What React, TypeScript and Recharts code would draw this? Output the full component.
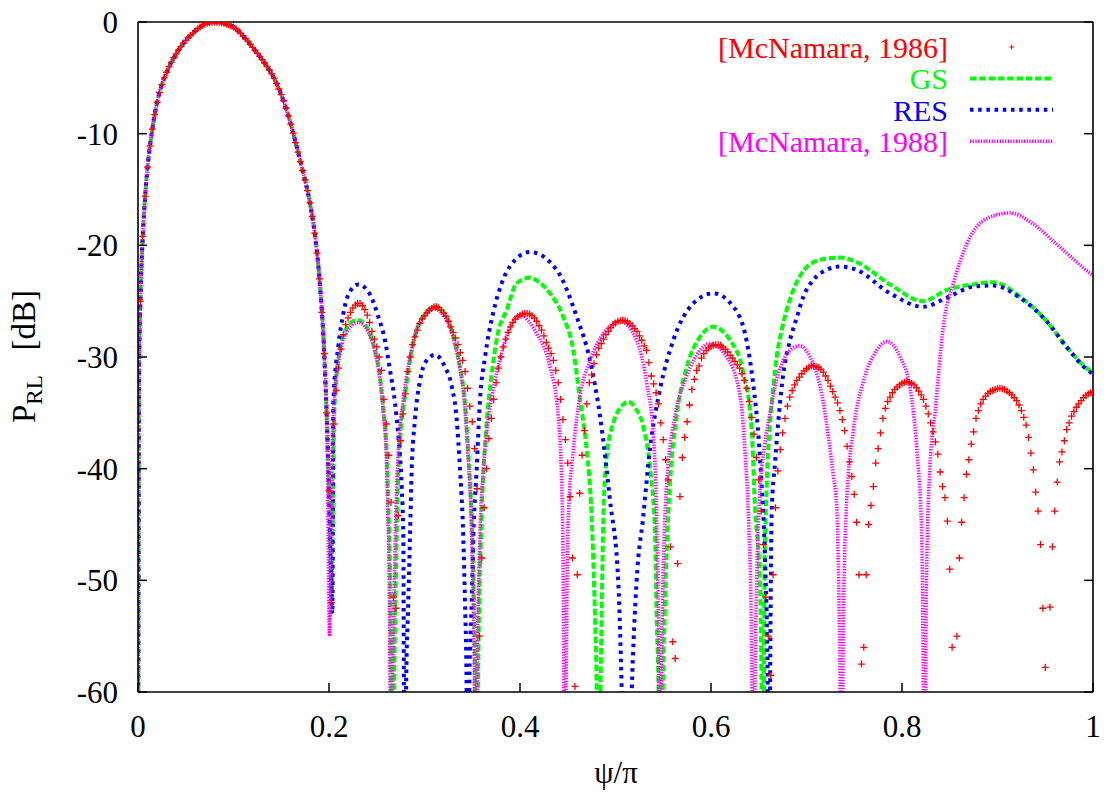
import React from 'react';
import { ComposedChart, Line, Scatter, XAxis, YAxis, Legend } from 'recharts';

const FONT = "'Liberation Serif', 'Times New Roman', serif";

// ---------- tick labels ----------
const xTicks = [0, 0.2, 0.4, 0.6, 0.8, 1];
const yTicks = [-60, -50, -40, -30, -20, -10, 0];

// ---------- legend ----------
const seriesNames = ['[McNamara, 1986]', 'GS', 'RES', '[McNamara, 1988]'];
const seriesColors = ['#ff0000', '#00ff00', '#0000ff', '#ff00ff'];

// ---------- main lobe (shared by the three curves) ----------
const mainLobeX = [0, 0.001, 0.0025, 0.005, 0.0075, 0.01, 0.015, 0.02, 0.025, 0.03, 0.04, 0.05, 0.06, 0.07, 0.08, 0.09, 0.1, 0.11, 0.12, 0.13, 0.14, 0.15, 0.16, 0.17, 0.18, 0.185, 0.19, 0.195];
const mainLobeY = [-80, -32, -25, -19.2, -15.6, -13.0, -9.6, -7.2, -5.6, -4.5, -2.85, -1.65, -0.8, -0.2, 0, -0.12, -0.45, -1.25, -2.27, -3.37, -4.65, -6.5, -9.15, -12.5, -16.2, -18.9, -23.0, -29.7];

// ---------- GS ----------
const gsX = [0.2, 0.2028, 0.2055, 0.2115, 0.2185, 0.225, 0.2307, 0.237, 0.2412, 0.2482, 0.2534, 0.2569, 0.2604, 0.2621, 0.2639, 0.2652, 0.2667, 0.2685, 0.2702, 0.2716, 0.2743, 0.2796, 0.2848, 0.2918, 0.3005, 0.311, 0.3232, 0.3304, 0.3372, 0.3424, 0.3459, 0.3494, 0.3518, 0.353, 0.3545, 0.3562, 0.36, 0.365, 0.37, 0.3765, 0.386, 0.3965, 0.41, 0.42, 0.4314, 0.4453, 0.4558, 0.4628, 0.4698, 0.475, 0.4785, 0.4803, 0.4822, 0.4842, 0.4855, 0.4873, 0.4908, 0.4977, 0.5055, 0.5134, 0.521, 0.529, 0.536, 0.5414, 0.543, 0.545, 0.547, 0.5495, 0.5515, 0.5536, 0.557, 0.564, 0.5746, 0.5885, 0.602, 0.62, 0.6338, 0.6426, 0.646, 0.6513, 0.653, 0.6545, 0.656, 0.6583, 0.6618, 0.6653, 0.6688, 0.674, 0.6792, 0.6862, 0.695, 0.7054, 0.72, 0.735, 0.7525, 0.7874, 0.8223, 0.8467, 0.8747, 0.8956, 0.9236, 0.9515, 0.9724, 0.9934, 1.0];
const gsY = [-42, -51.5, -35, -29.2, -27.4, -26.8, -26.7, -27.0, -27.6, -29.4, -31.8, -34.7, -38.6, -43.1, -49.1, -59.5, -80, -58, -49.1, -43.1, -37.7, -33.5, -30.3, -27.6, -26.1, -25.5, -26.4, -28.2, -30.9, -34.1, -38.6, -44.6, -52.0, -59.5, -80, -58, -44, -36, -31.8, -28, -25.8, -23.4, -22.9, -23.3, -24.3, -26.4, -29.4, -33.8, -38.3, -44.3, -53.2, -59.8, -80, -60, -53.2, -44.3, -38.9, -35.9, -34.5, -34.0, -34.6, -36.2, -39.8, -45.8, -53.2, -60, -80, -60, -53, -47.3, -41.3, -35.3, -30.9, -28.2, -27.3, -28.5, -31.4, -36.5, -43.4, -50.3, -60, -80, -50, -41.5, -36, -32.6, -30.0, -27.6, -25.8, -24.0, -22.5, -21.6, -21.2, -21.1, -21.5, -23.5, -25.0, -24.0, -23.5, -23.3, -24.6, -26.8, -29.1, -31.0, -31.4];

// ---------- RES ----------
const resX = [0.2, 0.2025, 0.2035, 0.2045, 0.2098, 0.215, 0.2203, 0.2307, 0.2429, 0.2516, 0.2586, 0.2639, 0.2691, 0.2726, 0.2761, 0.2778, 0.2784, 0.2795, 0.2808, 0.283, 0.2848, 0.2866, 0.29, 0.2953, 0.3023, 0.311, 0.3215, 0.3285, 0.3337, 0.3372, 0.3406, 0.3424, 0.344, 0.3455, 0.347, 0.3494, 0.3511, 0.3546, 0.358, 0.3634, 0.372, 0.3808, 0.395, 0.4105, 0.4384, 0.4594, 0.4733, 0.4838, 0.4942, 0.503, 0.5065, 0.5115, 0.517, 0.522, 0.529, 0.536, 0.5466, 0.5605, 0.5815, 0.6024, 0.6234, 0.6374, 0.6443, 0.6496, 0.653, 0.6565, 0.6595, 0.6607, 0.662, 0.6635, 0.667, 0.6757, 0.6827, 0.6897, 0.6967, 0.7071, 0.7211, 0.735, 0.7525, 0.7874, 0.8223, 0.8467, 0.8747, 0.8956, 0.9236, 0.9515, 0.9724, 0.9934, 1.0];
const resY = [-42, -51, -53, -34.1, -29.0, -26.1, -24.4, -23.5, -24.4, -26.4, -28.5, -31.2, -34.1, -37.1, -41.6, -46.1, -59, -80, -59, -52.0, -46.1, -40.1, -35.6, -32.1, -30.3, -29.8, -30.9, -32.6, -35.6, -40.1, -46.1, -52, -59, -80, -59, -52.0, -46.1, -40.1, -34, -30, -26, -23.4, -21.3, -20.6, -22.2, -26.4, -30.3, -35.3, -42.8, -50.3, -59.8, -80, -60, -50.2, -44.3, -38.3, -32.9, -28.5, -25.2, -24.3, -25.5, -28.6, -32.5, -37, -41.5, -48, -60, -80, -58, -44, -39.5, -31.5, -28.5, -26.5, -24.6, -23.1, -22.2, -21.9, -22.2, -24.3, -25.5, -24.7, -23.7, -23.6, -24.7, -26.8, -29.1, -31.1, -31.5];

// ---------- [McNamara, 1988] ----------
const mc88X = [0.198, 0.2005, 0.2035, 0.2063, 0.2115, 0.2185, 0.2307, 0.2412, 0.2482, 0.2534, 0.2569, 0.26, 0.2615, 0.263, 0.2638, 0.2652, 0.2665, 0.2685, 0.27, 0.2725, 0.2775, 0.2835, 0.2905, 0.3, 0.31, 0.322, 0.33, 0.337, 0.342, 0.3455, 0.349, 0.351, 0.3523, 0.3535, 0.355, 0.358, 0.3616, 0.3668, 0.3738, 0.3825, 0.3913, 0.4, 0.4174, 0.4314, 0.44, 0.4436, 0.4453, 0.4457, 0.447, 0.4482, 0.4489, 0.4506, 0.4558, 0.4628, 0.4733, 0.4873, 0.5047, 0.522, 0.5326, 0.5396, 0.543, 0.5455, 0.5468, 0.548, 0.5536, 0.5623, 0.5746, 0.5885, 0.598, 0.6164, 0.6304, 0.6356, 0.6395, 0.6418, 0.643, 0.6445, 0.646, 0.6478, 0.6505, 0.656, 0.6618, 0.6688, 0.6757, 0.6827, 0.6925, 0.7037, 0.7107, 0.7176, 0.7228, 0.7281, 0.7316, 0.734, 0.7352, 0.7365, 0.738, 0.7386, 0.742, 0.749, 0.7595, 0.7735, 0.784, 0.7979, 0.8084, 0.8154, 0.8206, 0.8223, 0.8235, 0.8248, 0.8258, 0.8293, 0.8346, 0.8433, 0.8538, 0.8677, 0.8887, 0.9131, 0.9375, 0.962, 0.9969, 1.0];
const mc88Y = [-37, -55, -38, -33, -29.7, -27.8, -26.9, -27.8, -29.6, -32.0, -35.0, -39, -44, -50, -59, -80, -60, -50, -44, -38.5, -34, -30.6, -27.9, -26.3, -25.7, -26.5, -28.3, -31.0, -34.3, -38.8, -44.8, -52, -59.5, -80, -60, -46.1, -40.1, -35.6, -32.1, -29.1, -27.0, -26.3, -27.9, -30.9, -35.3, -41.3, -50.3, -59.8, -80, -60, -53.2, -44.3, -38.3, -33.5, -30.3, -27.9, -26.8, -28.5, -32.3, -37.1, -44.3, -59.8, -80, -58, -41.3, -35.3, -31.7, -29.4, -28.8, -30.0, -33.5, -38.5, -45, -52, -59.8, -80, -60, -50.3, -43, -38.0, -35.0, -32.0, -30.3, -29.4, -29.0, -30.0, -31.5, -34.1, -37.1, -40.7, -43.4, -52, -59.8, -80, -60, -53.9, -42.9, -36.6, -32.2, -29.4, -28.6, -30.0, -32.8, -38.2, -46.0, -59.8, -80, -58, -49.2, -39.7, -35.0, -27.2, -23.4, -19.9, -17.6, -17.1, -18.1, -19.9, -22.5, -22.7];

// ---------- [McNamara, 1986] : sampled every 0.0025 in psi/pi ----------
const mc86Step = 0.0025;
const mc86Y: (number | null)[] = [
  null, -25, -19.2, -15.6, -13.0, -11.1, -9.6, -8.3, -7.2, -6.3, -5.6, -5.0, -4.5, -4.0, -3.6, -3.2, -2.85, -2.5, -2.2, -1.9,
  -1.65, -1.4, -1.2, -1.0, -0.8, -0.6, -0.45, -0.3, -0.2, -0.12, -0.06, -0.02, 0, 0, -0.02, -0.06, -0.12, -0.2, -0.27, -0.35,
  -0.45, -0.6, -0.8, -1.0, -1.25, -1.5, -1.72, -2.0, -2.27, -2.55, -2.8, -3.08, -3.37, -3.67, -3.98, -4.3, -4.65, -5.02, -5.5, -6.0,
  -6.5, -7.05, -7.7, -8.4, -9.15, -9.95, -10.8, -11.65, -12.5, -13.3, -14.15, -15.1, -16.2, -17.4, -18.9, -20.7, -23.0, -26.0, -29.7, -35,
  -42, -52, -36, -33, -31, -29.3, -28.0, -27.1, -26.5, -26.0, -25.6, -25.35, -25.2, -25.2, -25.4, -25.75, -26.25, -26.9, -27.7, -28.4,
  -29.1, -30.0, -31.2, -33.8, -36.0, -38.8, -43.0, -51.5, -52.5, -44.2, -37.5, -35.1, -33.3, -31.3, -30.0, -28.9, -28.2, -27.6, -27.0, -26.6,
  -26.3, -26.05, -25.8, -25.65, -25.5, -25.5, -25.6, -25.8, -26.05, -26.35, -26.8, -27.3, -27.8, -28.3, -28.9, -29.6, -30.3, -31.3, -32.8, -34.4,
  -35.8, -38.2, -41.8, -55, -48, -43.5, -40.0, -37.3, -35.5, -33.8, -32.3, -31.0, -30.0, -29.1, -28.4, -27.8, -27.3, -26.9, -26.6, -26.4,
  -26.25, -26.15, -26.1, -26.1, -26.15, -26.3, -26.5, -26.8, -27.2, -27.6, -28.1, -28.7, -29.2, -29.7, -30.3, -31.2, -32.3, -33.8, -35.6, -37.4,
  -39.5, -42.5, -48, -59.5, -49.5, -42.2, -38.8, -36.6, -34.2, -32.3, -31.6, -30.6, -29.8, -29.2, -28.8, -28.4, -28.0, -27.7, -27.4, -27.1,
  -26.95, -26.8, -26.75, -26.7, -26.75, -26.85, -27.0, -27.2, -27.45, -27.7, -28.1, -28.5, -29.0, -29.4, -30.5, -31.7, -32.4, -33.2, -34.2, -35.9,
  -37.4, -39.2, -41.0, -47.0, -55.5, -57, -48.5, -42.5, -39.0, -37.2, -35.8, -34.3, -32.9, -32.0, -31.2, -30.8, -30.1, -29.7, -29.4, -29.2,
  -29.05, -28.95, -28.9, -28.9, -28.95, -29.1, -29.3, -29.55, -29.85, -30.1, -30.4, -30.7, -31.0, -31.5, -32.1, -32.8, -34.0, -35.4, -36.9, -39.0,
  -41.0, -43.8, -46.8, -51.5, -55.0, -58.5, -49.5, -43.5, -40.2, -38.3, -36.8, -35.5, -34.4, -33.6, -33.0, -32.5, -32.1, -31.8, -31.5, -31.25,
  -31.05, -30.9, -30.8, -30.8, -30.85, -30.95, -31.1, -31.35, -31.7, -32.1, -32.6, -33.1, -33.6, -34.1, -34.8, -35.6, -36.6, -38.0, -39.4, -40.7,
  -42.3, -44.8, -49.5, -57.5, -56, -49.5, -45.0, -43.3, -41.6, -39.5, -38.2, -36.8, -35.5, -34.6, -34.0, -33.6, -33.2, -32.9, -32.7, -32.5,
  -32.35, -32.25, -32.2, -32.25, -32.35, -32.5, -32.75, -33.05, -33.4, -33.8, -34.4, -35.1, -35.9, -36.7, -37.6, -38.7, -40.3, -41.6, -42.6, -44.7,
  -49.0, -56.0, null, -55, -48.0, -44.8, -42.6, -40.5, -39.2, -37.8, -36.7, -35.5, -34.8, -34.2, -33.8, -33.5, -33.25, -33.1, -33.0, -32.9,
  -32.85, -32.8, -32.85, -32.9, -33.05, -33.2, -33.4, -33.65, -33.9, -34.3, -34.8, -35.4, -36.1, -37.2, -38.6, -40.1, -42.1, -43.8, -46.8, -52.5,
  -57.8, null, -52.4, -47.0, -43.8, -41.2, -39.4, -38.5, -37.5, -36.5, -35.9, -35.3, -34.9, -34.5, -34.2, -33.9, -33.65, -33.45, -33.3, -33.2,
  -33.1,
];

// ---------- build tables ----------
const toPoints = (xs: number[], ys: number[]) => xs.map((x, i) => ({ x, y: ys[i] }));
const gsData = toPoints([...mainLobeX, ...gsX], [...mainLobeY, ...gsY]);
const resData = toPoints([...mainLobeX, ...resX], [...mainLobeY, ...resY]);
const mc88Data = toPoints([...mainLobeX, ...mc88X], [...mainLobeY, ...mc88Y]);
const mc86Data = mc86Y
  .map((y, i) => ({ x: Number((i * mc86Step).toFixed(4)), y }))
  .filter((p) => p.y !== null && (p.y as number) >= -60);

// ---------- styling ----------
const TICK_FS = 31;
const LEGEND_FS = 30;
const TICK_LEN = 9;
const FRAME = { stroke: '#000', strokeWidth: 1.6 };
const txtStyle = (size: number): React.CSSProperties => ({ fontFamily: FONT, fontSize: size });

const BottomTick = (props: any) => {
  const { x, y, payload } = props;
  return (
    <g>
      <line x1={x} y1={y} x2={x} y2={y - TICK_LEN} stroke="#000" strokeWidth={1.5} />
      <text x={x} y={y + 45} textAnchor="middle" style={txtStyle(TICK_FS)} fill="#000">
        {String(payload.value)}
      </text>
    </g>
  );
};
const TopTick = (props: any) => {
  const { x, y } = props;
  return <line x1={x} y1={y} x2={x} y2={y + TICK_LEN} stroke="#000" strokeWidth={1.5} />;
};
const LeftTick = (props: any) => {
  const { x, y, payload } = props;
  return (
    <g>
      <line x1={x} y1={y} x2={x + TICK_LEN} y2={y} stroke="#000" strokeWidth={1.5} />
      <text x={x - 20} y={y + 11} textAnchor="end" style={txtStyle(TICK_FS)} fill="#000">
        {String(payload.value)}
      </text>
    </g>
  );
};
const RightTick = (props: any) => {
  const { x, y } = props;
  return <line x1={x} y1={y} x2={x - TICK_LEN} y2={y} stroke="#000" strokeWidth={1.5} />;
};

const PlusShape = (props: any) => {
  const { cx, cy } = props;
  if (cx == null || cy == null) return null;
  const a = 3.5;
  return (
    <path
      d={`M${cx - a},${cy}H${cx + a}M${cx},${cy - a}V${cy + a}`}
      stroke="#ff0000"
      strokeWidth={1.3}
      fill="none"
    />
  );
};

const lineStyles = [
  null,
  { dash: '6.5 2.8', width: 4 },
  { dash: '3.5 4.7', width: 4 },
  { dash: '1.3 1.4', width: 3.6 },
];

const renderLegend = () => {
  const textRight = 948;
  const firstBase = 58;
  const gap = 31.4;
  const sx1 = 970;
  const sx2 = 1053;
  return (
    <svg width={1107} height={180} style={{ position: 'absolute', left: 0, top: 0, overflow: 'visible', pointerEvents: 'none' }}>
      {seriesNames.map((name, i) => {
        const base = firstBase + i * gap;
        const cy = base - 11;
        const st = lineStyles[i];
        return (
          <g key={name}>
            <text x={textRight} y={base} textAnchor="end" style={txtStyle(LEGEND_FS)} fill={seriesColors[i]}>
              {name}
            </text>
            {st ? (
              <line x1={sx1} y1={cy} x2={sx2} y2={cy} stroke={seriesColors[i]} strokeWidth={st.width} strokeDasharray={st.dash} />
            ) : (
              <path d={`M${1011.7 - 2.4},${cy}H${1011.7 + 2.4}M1011.7,${cy - 2.4}V${cy + 2.4}`} stroke={seriesColors[i]} strokeWidth={1} fill="none" />
            )}
          </g>
        );
      })}
    </svg>
  );
};

const XTitle = () => (
  <text x={616} y={783} textAnchor="middle" style={txtStyle(TICK_FS)} fill="#000">
    ψ/π
  </text>
);
const YTitle = () => (
  <text
    x={35}
    y={423}
    transform="rotate(-90 35 423)"
    textAnchor="start"
    style={txtStyle(33)}
    fill="#000"
  >
    P
    <tspan style={{ fontSize: 23 }} dy={7}>RL</tspan>
    <tspan dy={-7}>{'\u00a0\u00a0\u00a0[dB]'}</tspan>
  </text>
);

export default function App() {
  return (
    <div style={{ position: 'absolute', left: 0, top: 0, width: 1107, height: 796, background: '#fff' }}>
      <ComposedChart width={1107} height={796} margin={{ top: 21, right: 13, bottom: 103, left: 137 }}>
        <XAxis
          xAxisId="b"
          type="number"
          dataKey="x"
          domain={[0, 1]}
          ticks={xTicks}
          interval={0}
          allowDataOverflow
          height={1}
          tickSize={0}
          tickMargin={0}
          tickLine={false}
          axisLine={FRAME}
          tick={<BottomTick />}
          label={XTitle}
        />
        <XAxis
          xAxisId="t"
          orientation="top"
          type="number"
          domain={[0, 1]}
          ticks={xTicks}
          interval={0}
          allowDataOverflow
          height={1}
          tickSize={0}
          tickMargin={0}
          tickLine={false}
          axisLine={FRAME}
          tick={<TopTick />}
        />
        <YAxis
          yAxisId="l"
          type="number"
          dataKey="y"
          domain={[-60, 0]}
          ticks={yTicks}
          interval={0}
          allowDataOverflow
          width={1}
          tickSize={0}
          tickMargin={0}
          tickLine={false}
          axisLine={FRAME}
          tick={<LeftTick />}
          label={YTitle}
        />
        <YAxis
          yAxisId="r"
          orientation="right"
          type="number"
          domain={[-60, 0]}
          ticks={yTicks}
          interval={0}
          allowDataOverflow
          width={1}
          tickSize={0}
          tickMargin={0}
          tickLine={false}
          axisLine={FRAME}
          tick={<RightTick />}
        />
        <Legend content={renderLegend} verticalAlign="top" wrapperStyle={{ left: 0, top: 0, width: 1107, height: 0 }} />
        <Scatter
          name={seriesNames[0]}
          xAxisId="b"
          yAxisId="l"
          data={mc86Data}
          dataKey="y"
          fill={seriesColors[0]}
          shape={PlusShape}
          isAnimationActive={false}
        />
        <Line
          name={seriesNames[1]}
          xAxisId="b"
          yAxisId="l"
          data={gsData}
          dataKey="y"
          type="monotone"
          stroke={seriesColors[1]}
          strokeWidth={4}
          strokeDasharray="6.5 2.8"
          dot={false}
          activeDot={false}
          isAnimationActive={false}
        />
        <Line
          name={seriesNames[2]}
          xAxisId="b"
          yAxisId="l"
          data={resData}
          dataKey="y"
          type="monotone"
          stroke={seriesColors[2]}
          strokeWidth={4}
          strokeDasharray="3.5 4.7"
          dot={false}
          activeDot={false}
          isAnimationActive={false}
        />
        <Line
          name={seriesNames[3]}
          xAxisId="b"
          yAxisId="l"
          data={mc88Data}
          dataKey="y"
          type="monotone"
          stroke={seriesColors[3]}
          strokeWidth={3.6}
          strokeDasharray="1.3 1.4"
          dot={false}
          activeDot={false}
          isAnimationActive={false}
        />
      </ComposedChart>
    </div>
  );
}
